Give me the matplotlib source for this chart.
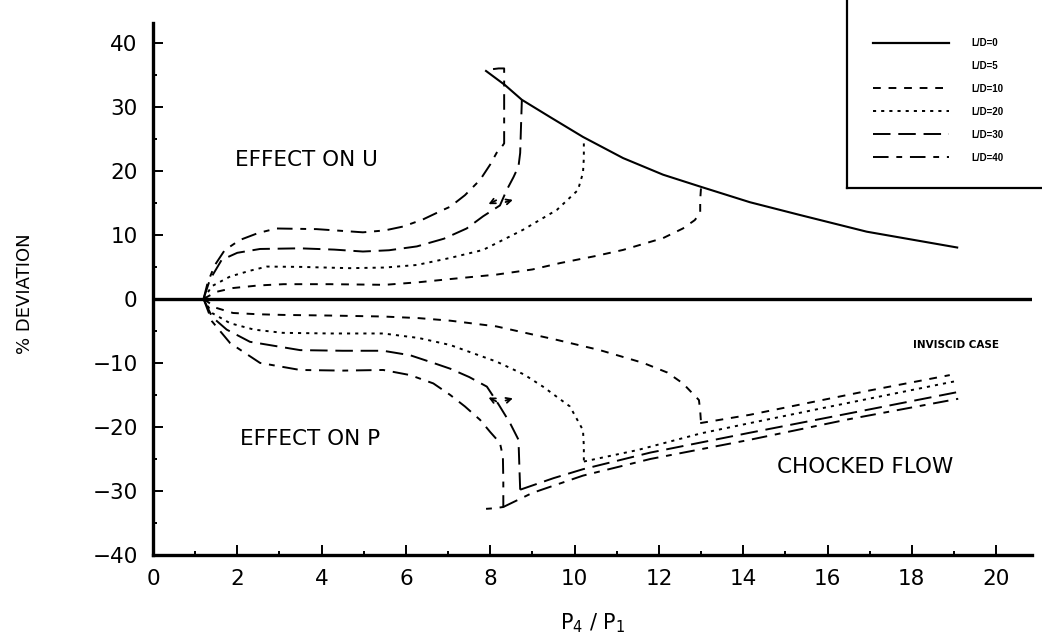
import numpy as np
import matplotlib.pyplot as plt
from matplotlib.lines import Line2D
from matplotlib.ticker import MultipleLocator

plt.rcParams['font.family'] = ['DejaVu Sans']
plt.rcParams['mathtext.default'] = 'regular'

# effect on U (upper branches), by L/D
up10_x = [1.2, 1.5, 1.9, 2.5, 3.1, 4.2, 5.5, 6.3, 7.05, 8.15, 9.0, 9.66, 10.5, 11.15, 12.1, 12.57, 12.85, 12.98, 12.98, 13.0]
up10_y = [0, 1.1, 1.7, 2.1, 2.3, 2.3, 2.2, 2.6, 3.1, 3.8, 4.6, 5.6, 6.7, 7.65, 9.5, 11.0, 12.3, 13.4, 15.5, 17.4]
up20_x = [1.2, 1.4, 1.83, 2.3, 2.7, 3.5, 4.67, 5.5, 6.26, 7.05, 7.83, 8.78, 9.58, 10.08, 10.2, 10.22, 10.22]
up20_y = [0, 2.0, 3.5, 4.4, 5.05, 5.0, 4.8, 4.9, 5.3, 6.4, 7.65, 10.8, 13.9, 17.0, 19.7, 22.0, 24.9]
up30_x = [1.2, 1.35, 1.63, 2.0, 2.54, 3.49, 4.3, 4.98, 5.6, 6.26, 6.9, 7.44, 7.83, 8.23, 8.39, 8.55, 8.67, 8.71, 8.73, 8.75]
up30_y = [0, 3.0, 6.1, 7.2, 7.8, 7.9, 7.7, 7.4, 7.6, 8.2, 9.4, 11.0, 12.9, 14.6, 17.0, 19.0, 20.7, 22.8, 27.0, 31.1]
up40_x = [1.2, 1.3, 1.47, 1.7, 2.06, 2.5, 2.93, 3.88, 4.98, 5.5, 5.93, 6.4, 6.88, 7.05, 7.4, 7.76, 8.0, 8.15, 8.3, 8.33, 8.33, 8.33, 8.2, 7.95]
up40_y = [0, 2.6, 5.3, 7.6, 9.2, 10.3, 11.0, 10.9, 10.4, 10.7, 11.3, 12.4, 13.9, 14.4, 16.2, 18.6, 21.0, 22.8, 24.0, 24.3, 30.0, 36.0, 36.0, 35.8]

# effect on P (lower branches), by L/D
lo10_x = [1.2, 1.5, 1.9, 2.5, 3.08, 4.2, 5.46, 6.3, 7.05, 8.15, 9.58, 10.6, 11.63, 12.2, 12.57, 12.95, 12.98, 13.0]
lo10_y = [0, -1.4, -2.2, -2.4, -2.5, -2.6, -2.75, -3.0, -3.4, -4.3, -6.4, -8.0, -10.0, -11.5, -13.2, -15.8, -17.5, -19.4]
lo20_x = [1.2, 1.4, 1.83, 2.4, 3.08, 4.2, 5.46, 6.3, 7.05, 8.15, 8.8, 9.25, 9.89, 10.2, 10.22, 10.22]
lo20_y = [0, -2.2, -3.8, -4.8, -5.3, -5.4, -5.4, -6.1, -7.2, -9.8, -11.8, -13.7, -16.8, -20.5, -23.0, -25.4]
lo30_x = [1.2, 1.4, 1.75, 2.3, 3.49, 4.5, 5.46, 6.1, 6.65, 7.05, 7.5, 7.92, 8.2, 8.47, 8.67, 8.69, 8.71]
lo30_y = [0, -2.8, -4.8, -6.7, -8.0, -8.1, -8.1, -8.8, -10.0, -10.9, -12.2, -13.7, -16.5, -19.4, -22.0, -26.0, -29.8]
lo40_x = [1.2, 1.4, 1.83, 2.54, 3.49, 4.5, 5.46, 6.1, 6.65, 7.05, 7.4, 7.76, 8.0, 8.23, 8.3, 8.31, 8.31, 8.1, 7.88]
lo40_y = [0, -3.5, -6.9, -10.0, -11.1, -11.2, -11.1, -11.9, -13.2, -15.0, -16.8, -18.9, -20.8, -22.5, -24.6, -28.5, -32.5, -32.7, -32.8]

# choked flow branches for P
ch10_x = [12.98, 14.16, 15.5, 17.0, 18.9]
ch10_y = [-19.4, -18.1, -16.3, -14.3, -11.9]
ch20_x = [10.22, 11.5, 13.0, 14.16, 16.0, 19.0]
ch20_y = [-25.4, -23.6, -21.0, -19.4, -16.9, -12.9]
ch30_x = [8.71, 9.5, 10.2, 11.8, 14.16, 16.5, 19.05]
ch30_y = [-29.8, -28.0, -26.6, -24.0, -20.9, -17.9, -14.6]
ch40_x = [8.31, 9.0, 10.2, 11.8, 14.16, 16.5, 19.1]
ch40_y = [-32.5, -30.3, -27.6, -25.0, -22.0, -18.8, -15.6]

# choked limit for U (L/D = 0)
lim_x = [7.88, 8.35, 8.75, 9.42, 10.2, 11.15, 12.1, 13.0, 14.16, 15.35, 16.93, 19.1]
lim_y = [35.7, 33.4, 31.1, 28.4, 25.3, 22.0, 19.4, 17.5, 15.1, 13.1, 10.5, 8.0]

labels = ['L/D=0', 'L/D=5', 'L/D=10', 'L/D=20', 'L/D=30', 'L/D=40']

ls10 = (0, (4, 4))
ls20 = (0, (1.6, 2.6))
ls30 = (0, (9, 4))
ls40 = (0, (8, 4, 3, 4))
lw = 1.4

fig = plt.figure(figsize=(10.42, 6.38), dpi=100)
ax = fig.add_axes([0.1468, 0.1301, 0.8436, 0.8339])

ax.plot([0, 20.85], [0, 0], color='black', lw=2.4)
ax.plot(lim_x, lim_y, color='black', lw=1.5, solid_capstyle='butt')

for (xs, ys), ls in [((up10_x, up10_y), ls10), ((up20_x, up20_y), ls20),
                     ((up30_x, up30_y), ls30), ((up40_x, up40_y), ls40),
                     ((lo10_x, lo10_y), ls10), ((lo20_x, lo20_y), ls20),
                     ((lo30_x, lo30_y), ls30), ((lo40_x, lo40_y), ls40),
                     ((ch10_x, ch10_y), ls10), ((ch20_x, ch20_y), ls20),
                     ((ch30_x, ch30_y), ls30), ((ch40_x, ch40_y), ls40)]:
    ax.plot(xs, ys, color='black', lw=lw, linestyle=ls)

# small direction arrows near the turning points
arw = dict(arrowstyle='->', color='black', lw=1.3, mutation_scale=9)
ax.annotate('', xy=(7.9, 14.6), xytext=(8.2, 15.6), arrowprops=arw)
ax.annotate('', xy=(8.6, 15.6), xytext=(8.3, 15.0), arrowprops=arw)
ax.annotate('', xy=(7.9, -15.2), xytext=(8.2, -16.2), arrowprops=arw)
ax.annotate('', xy=(8.6, -15.4), xytext=(8.3, -16.0), arrowprops=arw)

ax.text(1.95, 21.7, 'EFFECT ON U', fontsize=15.5, va='center', ha='left')
ax.text(2.06, -21.9, 'EFFECT ON P', fontsize=15.5, va='center', ha='left')
ax.text(14.8, -26.3, 'CHOCKED FLOW', fontsize=15.5, va='center', ha='left')
ax.text(18.03, -7.2, 'INVISCID CASE', fontsize=7.5, fontweight='bold', va='center', ha='left')

ax.set_xlim(0, 20.85)
ax.set_ylim(-40, 43.1)
ax.xaxis.set_major_locator(MultipleLocator(2))
ax.xaxis.set_minor_locator(MultipleLocator(1))
ax.yaxis.set_major_locator(MultipleLocator(10))
ax.yaxis.set_minor_locator(MultipleLocator(5))
ax.tick_params(which='both', direction='in', width=1.4, labelsize=15.5)
ax.tick_params(which='major', length=7)
ax.tick_params(which='minor', length=3)
ax.tick_params(axis='y', pad=11)
ax.tick_params(axis='x', pad=10)
for s in ['top', 'right']:
    ax.spines[s].set_visible(False)
for s in ['left', 'bottom']:
    ax.spines[s].set_linewidth(2.4)

ax.set_xlabel('P$_4$ / P$_1$', fontsize=15, labelpad=16)
fig.text(0.024, 0.54, '% DEVIATION', rotation=90, fontsize=13, va='center', ha='center')

# legend frame: left and bottom edges only
fig.add_artist(Line2D([847 / 1042, 847 / 1042], [1.0, 1 - 188 / 638], color='black', lw=1.6))
fig.add_artist(Line2D([847 / 1042, 1.0], [1 - 188 / 638, 1 - 188 / 638], color='black', lw=1.6))

handles = [Line2D([], [], color='black', lw=1.6),
           Line2D([], [], color='none'),
           Line2D([], [], color='black', lw=lw, linestyle=ls10),
           Line2D([], [], color='black', lw=lw, linestyle=ls20),
           Line2D([], [], color='black', lw=lw, linestyle=ls30),
           Line2D([], [], color='black', lw=lw, linestyle=ls40)]
leg = fig.legend(handles, labels, loc='upper left', bbox_to_anchor=(873 / 1042, 1 - 38 / 638),
                 frameon=False, prop={'family': ['Liberation Sans', 'DejaVu Sans'], 'size': 7, 'weight': 'bold'},
                 handlelength=7.8, handletextpad=2.3, labelspacing=1.33, borderpad=0, borderaxespad=0)

fig.savefig('out.png', dpi=100)
